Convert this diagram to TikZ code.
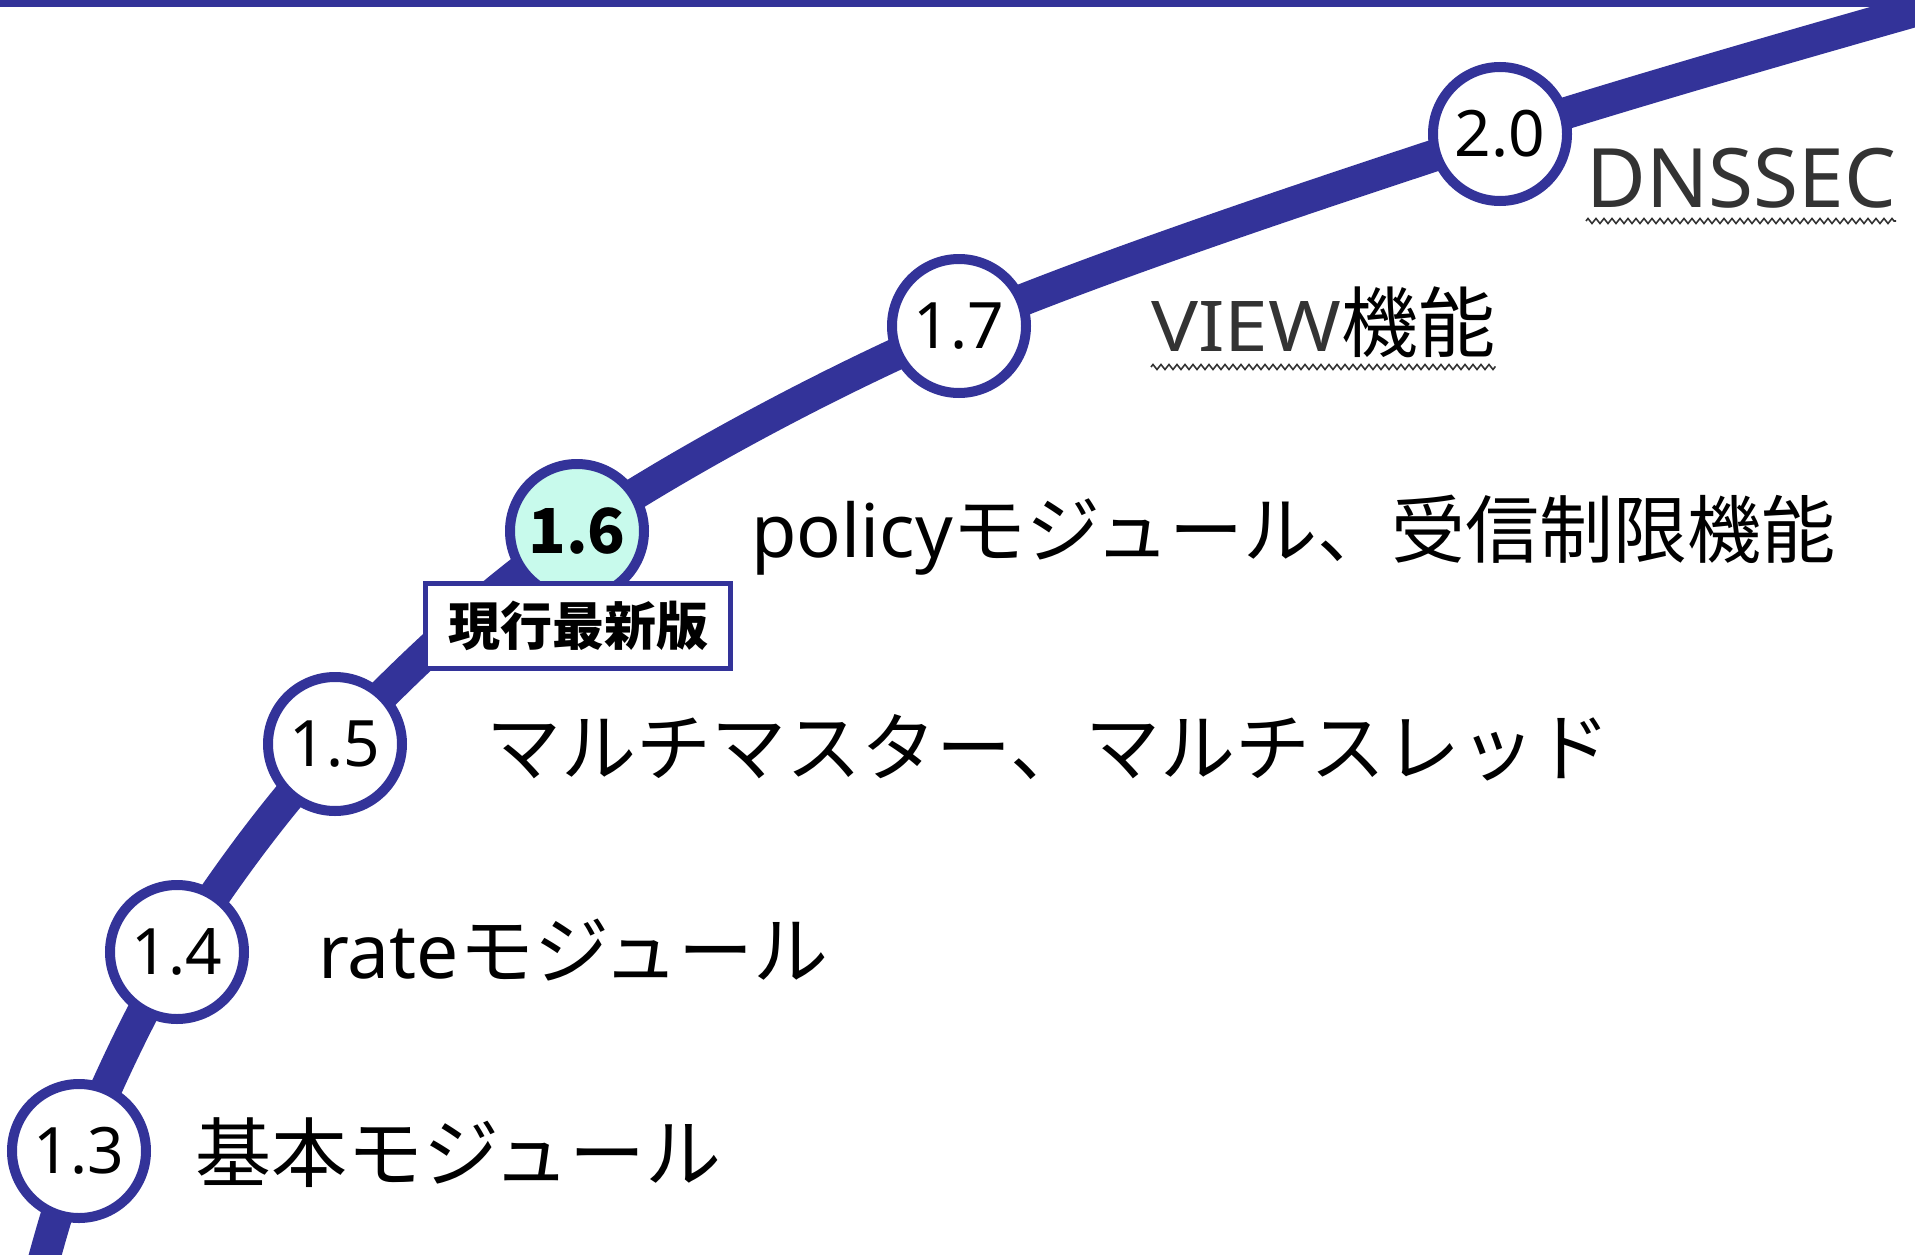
\documentclass[tikz,border=0pt]{standalone}
\usepackage{fontspec}
\setmainfont{Noto Sans CJK JP}
\newfontfamily\lat{Noto Sans}
\newfontfamily\latwide{Noto Sans}[FakeStretch=1.12]
\usetikzlibrary{decorations.pathmorphing,backgrounds}
\definecolor{rail}{RGB}{51,51,153}
\definecolor{mint}{RGB}{200,250,236}
\definecolor{graytxt}{RGB}{51,51,51}
\begin{document}
\begin{tikzpicture}[x=1pt,y=-1pt,
  ver/.style={circle,draw=rail,line width=10pt,fill=white,inner sep=0pt,minimum size=134pt,font=\lat\fontsize{64}{64}\selectfont},
  railline/.style={draw=rail,line width=32pt},
  lbl/.style={anchor=base west,inner sep=0pt,font=\fontsize{75}{80}\selectfont},
  squiggle/.style={draw=graytxt,line width=1.6pt,decorate,decoration={zigzag,segment length=8pt,amplitude=2.5pt}}]
\useasboundingbox (0,0) rectangle (1915,1255);
% stations
\node[ver] (v13) at (79,1151) {1.3};
\node[ver] (v14) at (177,952) {1.4};
\node[ver] (v15) at (335,744) {1.5};
\node[ver,fill=mint,font=\bfseries\fontsize{62}{62}\selectfont] (v16) at (577,531) {1.6};
\node[ver] (v17) at (959,326) {1.7};
\node[ver] (v20) at (1500,134) {2.0};
\coordinate (s) at (36,1290);
\coordinate (e) at (1975,-6);
\begin{pgfonlayer}{background}
\fill[white] (0,0) rectangle (1915,1255);
\begin{scope}
\clip (0,0) rectangle (1915,1255);
\draw[railline] plot[smooth,tension=0.55] coordinates {(s) (v13.center) (v14.center) (v15.center) (v16.center) (v17.center) (v20.center) (e)};
\end{scope}
\fill[rail] (0,0) rectangle (1915,7);
\end{pgfonlayer}
% current version tag
\node[draw=rail,line width=5pt,fill=white,minimum width=305pt,minimum height=85pt,inner sep=0pt,font=\bfseries\fontsize{52}{56}\selectfont] (cur) at (578,626) {現行最新版};
% labels
\node[lbl,font=\fontsize{76}{80}\selectfont] (t13) at (195,1181) {基本モジュール};
\node[lbl] (t14) at (318,978) {{\lat rate}モジュール};
\node[lbl] (t15) at (486,775) {マルチマスター、マルチスレッド};
\node[lbl,font=\fontsize{74}{78}\selectfont] (t16) at (751,557) {{\lat policy}モジュール、受信制限機能};
\node[lbl,font=\fontsize{77}{80}\selectfont] (t17) at (1151,351) {{\latwide\fontsize{70}{72}\selectfont\color{graytxt}VIEW}機能};
\node[lbl,font=\lat\fontsize{82}{84}\selectfont,text=graytxt] (t20) at (1586,207) {DNSSEC};
\draw[squiggle] ([yshift=-14pt]t20.base west) -- ([yshift=-14pt]t20.base east);
\draw[squiggle] ([yshift=-16pt]t17.base west) -- ([yshift=-16pt]t17.base east);
\end{tikzpicture}
\end{document}
